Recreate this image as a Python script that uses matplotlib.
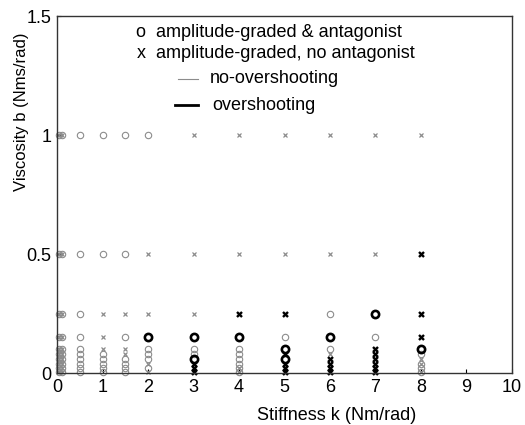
import matplotlib.pyplot as plt
from matplotlib.lines import Line2D

plt.rcParams['font.family'] = ['Liberation Sans', 'DejaVu Sans']

# stiffness columns (Nm/rad) and viscosity rows (Nms/rad)
stiffness = [0.05, 0.1, 0.5, 1, 1.5, 2, 3, 4, 5, 6, 7, 8]
viscosity = [1, 0.5, 0.25, 0.15, 0.1, 0.08, 0.06, 0.04, 0.02, 0.005]

# one string per stiffness column, one char per viscosity row (top -> bottom)
# o: antagonist, no-overshoot   O: antagonist, overshoot
# x: no antagonist, no-overshoot X: no antagonist, overshoot
# b: both o and x   .: nothing
outcome = [
    "bbbbbbbbbb",  # 0.05
    "bbbbbbbbbb",  # 0.1
    "oooooooooo",  # 0.5
    "ooxxxooooo",  # 1
    "ooxoxxoooo",  # 1.5
    "oxxOoooxox",  # 2
    "xxxOooOXXX",  # 3
    "xxXOoooobb",  # 4
    "xxXoOXOXXX",  # 5
    "xxoOoxXXXX",  # 6
    "xxOoXXXXXX",  # 7
    "xXXXOoxbob",  # 8
]

gray = '#8c8c8c'
styles = {
    'o': dict(marker='o', ms=4.6, mew=0.8, mfc='none', mec=gray),
    'O': dict(marker='o', ms=5.2, mew=1.9, mfc='none', mec='black'),
    'x': dict(marker='x', ms=3.2, mew=0.9, mec=gray),
    'X': dict(marker='x', ms=3.6, mew=1.7, mec='black'),
}

fig = plt.figure(figsize=(5.25, 4.25), dpi=100)
ax = fig.add_axes([0.109, 0.122, 0.866, 0.84])

pts = {c: ([], []) for c in styles}
for k, col in zip(stiffness, outcome):
    for b, c in zip(viscosity, col):
        keys = ['o', 'x'] if c == 'b' else ([] if c == '.' else [c])
        for key in keys:
            pts[key][0].append(k)
            pts[key][1].append(b)

for key in ['o', 'x', 'O', 'X']:
    ax.plot(pts[key][0], pts[key][1], ls='none', **styles[key], clip_on=False)

ax.set_xlim(0, 10)
ax.set_ylim(0, 1.5)
ax.set_xticks(range(0, 11))
ax.set_yticks([0, 0.5, 1, 1.5])
ax.set_yticklabels(['0', '0.5', '1', '1.5'])
ax.tick_params(direction='in', length=3, labelsize=13, pad=4, colors='black')
for s in ax.spines.values():
    s.set_linewidth(1.0)
    s.set_color('#333333')

# legend drawn as text
fs = 13
ax.text(0.171, 0.955, 'o', transform=ax.transAxes, fontsize=fs, va='center')
ax.text(0.2176, 0.955, 'amplitude-graded & antagonist', transform=ax.transAxes, fontsize=fs, va='center')
ax.text(0.176, 0.896, 'x', transform=ax.transAxes, fontsize=fs, va='center')
ax.text(0.2176, 0.896, 'amplitude-graded, no antagonist', transform=ax.transAxes, fontsize=fs, va='center')
ax.add_line(Line2D([0.266, 0.31], [0.824, 0.824], transform=ax.transAxes, color=gray, lw=0.8))
ax.text(0.336, 0.824, 'no-overshooting', transform=ax.transAxes, fontsize=fs, va='center')
ax.add_line(Line2D([0.259, 0.31], [0.751, 0.751], transform=ax.transAxes, color='black', lw=2))
ax.text(0.341, 0.751, 'overshooting', transform=ax.transAxes, fontsize=fs, va='center')

fig.text(337 / 525, 1 - 416 / 425, 'Stiffness k (Nm/rad)', fontsize=13, ha='center', va='center')
fig.text(22 / 525, 1 - 112 / 425, 'Viscosity b (Nms/rad)', fontsize=12, ha='center', va='center', rotation=90)

fig.savefig('out.png', dpi=100)
